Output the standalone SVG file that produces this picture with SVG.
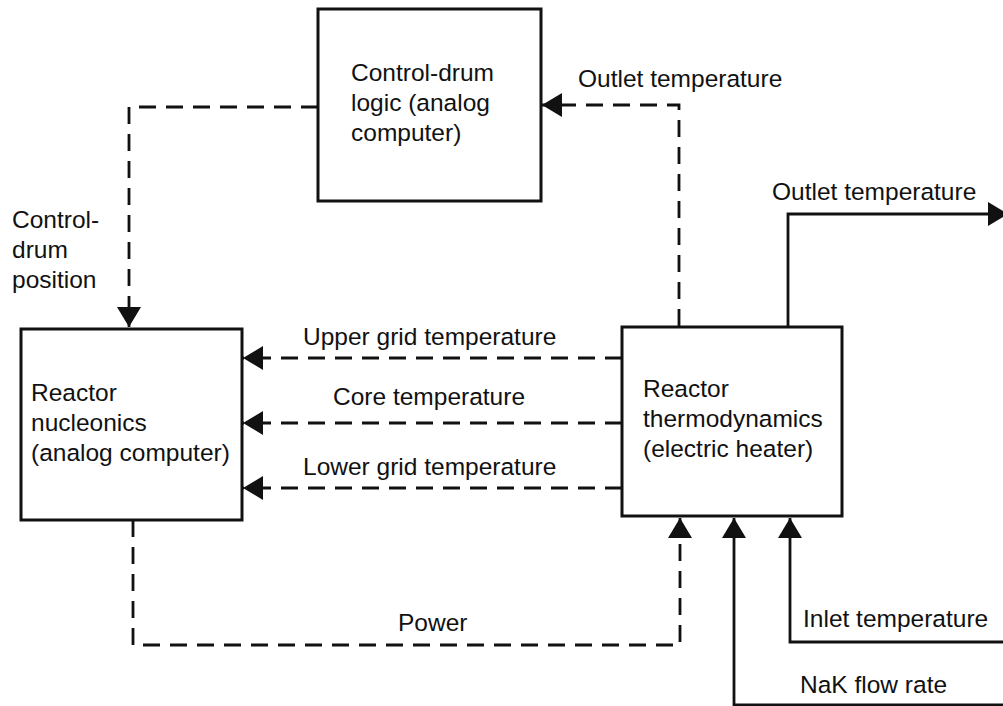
<svg xmlns="http://www.w3.org/2000/svg" width="1003" height="706" viewBox="0 0 1003 706">
<style>
.box{fill:#fff;stroke:#111;stroke-width:3}
.ln{fill:none;stroke:#111;stroke-width:2.8}
.dash{stroke-dasharray:17 10}
text{font-family:"Liberation Sans",Arial,sans-serif;font-size:24.5px;fill:#111}
</style>
<defs>
<marker id="ah" viewBox="0 0 20 24" refX="20" refY="12" markerWidth="20" markerHeight="24" markerUnits="userSpaceOnUse" orient="auto">
<path d="M0,0 L20,12 L0,24 Z" fill="#111"/>
</marker>
</defs>
<g id="connectors">
<path class="ln dash" d="M318,107 H129 V327" marker-end="url(#ah)"/>
<path class="ln dash" d="M679,326 V105 H542" marker-end="url(#ah)"/>
<path class="ln dash" d="M622,358 H243" marker-end="url(#ah)"/>
<path class="ln dash" d="M622,423 H243" marker-end="url(#ah)"/>
<path class="ln dash" d="M622,488 H243" marker-end="url(#ah)"/>
<path class="ln dash" d="M133,520 V645 H680 V518" marker-end="url(#ah)"/>
<path class="ln" d="M788,327 V214 H1008" marker-end="url(#ah)"/>
<path class="ln" d="M1003,642 H790 V518" marker-end="url(#ah)"/>
<path class="ln" d="M1003,705 H734 V518" marker-end="url(#ah)"/>
<text x="578" y="87">Outlet temperature</text>
<text x="12" y="228">Control-</text>
<text x="12" y="258">drum</text>
<text x="12" y="288">position</text>
<text x="303" y="345">Upper grid temperature</text>
<text x="333" y="405">Core temperature</text>
<text x="303" y="475">Lower grid temperature</text>
<text x="398" y="631">Power</text>
<text x="772" y="200">Outlet temperature</text>
<text x="803" y="627">Inlet temperature</text>
<text x="800" y="693">NaK flow rate</text>
</g>
<g id="control-drum-logic">
<rect class="box" x="318" y="9" width="223" height="192"/>
<text x="351" y="81">Control-drum</text>
<text x="351" y="111">logic (analog</text>
<text x="351" y="141">computer)</text>
</g>
<g id="reactor-nucleonics">
<rect class="box" x="21" y="329" width="221" height="191"/>
<text x="31" y="401">Reactor</text>
<text x="31" y="431">nucleonics</text>
<text x="31" y="461">(analog computer)</text>
</g>
<g id="reactor-thermodynamics">
<rect class="box" x="622" y="327" width="220" height="189"/>
<text x="643" y="397">Reactor</text>
<text x="643" y="427">thermodynamics</text>
<text x="643" y="457">(electric heater)</text>
</g>
</svg>
